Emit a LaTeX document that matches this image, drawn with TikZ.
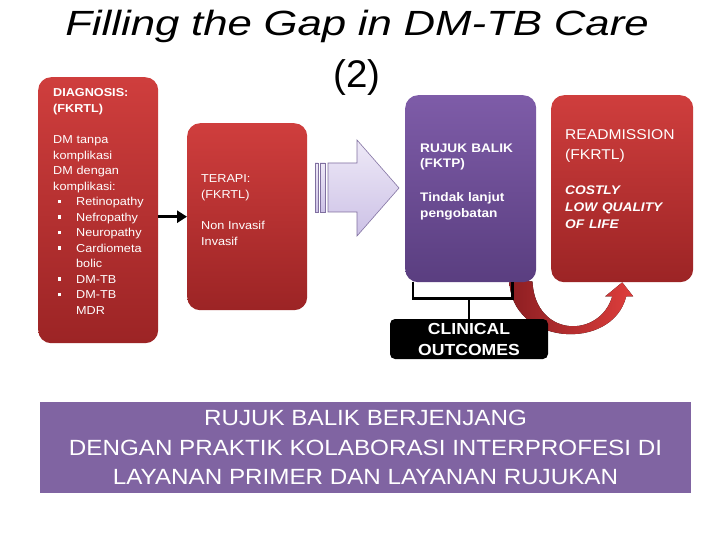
\documentclass[tikz,border=0pt]{standalone}
\usepackage{fontspec}
\setmainfont[FakeStretch=1.1]{Liberation Sans}
\newfontfamily\titlefont[FakeStretch=1.25]{Liberation Sans}
\newfontfamily\plainfont{Liberation Sans}
\usetikzlibrary{calc, arrows.meta, positioning, backgrounds}

\definecolor{redtop}{RGB}{207,62,61}
\definecolor{redbot}{RGB}{156,36,37}
\definecolor{purtop}{RGB}{126,92,168}
\definecolor{purbot}{RGB}{90,62,128}
\definecolor{bannerfill}{RGB}{128,100,162}
\definecolor{lavtop}{RGB}{238,233,247}
\definecolor{lavbot}{RGB}{204,193,230}
\definecolor{lavedge}{RGB}{128,112,160}
\definecolor{arrdark}{RGB}{140,30,34}
\definecolor{arrlight}{RGB}{222,62,60}

\newcommand{\blt}{\hspace*{4.5pt}\rule[2.5pt]{3.5pt}{3.5pt}\hspace*{15pt}}

\begin{document}
\begin{tikzpicture}[x=1pt, y=1pt,
    card/.style={rounded corners=13pt, inner sep=0pt, anchor=north west},
    redcard/.style={card, top color=redtop, bottom color=redbot},
    purcard/.style={card, top color=purtop, bottom color=purbot},
    cardtext/.style={anchor=base west, inner sep=0pt, text=white, text width=130pt, align=left},
    link/.style={-{Triangle[length=10pt, width=12pt]}, line width=3pt},
    brace/.style={line width=2.5pt},
    blockarrow/.style={draw=lavedge, line width=.6pt, top color=lavtop, bottom color=lavbot},
    curvarrow/.style={left color=arrdark, right color=arrlight}]
  \useasboundingbox (0,0) rectangle (720,-540);
  \node[anchor=base, text width=680pt, align=center, font=\titlefont\fontsize{35}{52}\selectfont] (title) at (357,-36)
    {\itshape Filling the Gap in DM-TB Care\\ \plainfont\upshape\fontsize{38.5}{52}\selectfont (2)};
  \foreach \name/\kind/\px/\py/\w/\h in {diag/redcard/38/77/120/266, terapi/redcard/187/123/120/187,
      rujuk/purcard/405/95/131/187, readm/redcard/551/95/142/187}
    \node[\kind, minimum width=\w, minimum height=\h] (\name) at (\px,-\py) {};
  \node[cardtext, font=\fontsize{11.5}{15.5}\selectfont] (diagtxt) at ($(diag.north west)+(15,-20)$)
    {\textbf{DIAGNOSIS:}\\ \textbf{(FKRTL)}\\[16pt] DM tanpa\\ komplikasi\\ DM dengan\\ komplikasi:\\
     \blt Retinopathy\\ \blt Nefropathy\\ \blt Neuropathy\\ \blt Cardiometa\\ \hspace*{23pt}bolic\\
     \blt DM-TB\\ \blt DM-TB\\ \hspace*{23pt}MDR};
  \node[cardtext, font=\fontsize{11.5}{15.5}\selectfont] (terapitxt) at ($(terapi.north west)+(14,-60)$)
    {TERAPI:\\ (FKRTL)\\[16pt] Non Invasif\\ Invasif};
  \node[cardtext, font=\bfseries\fontsize{12.4}{15.5}\selectfont] (rujuktxt) at ($(rujuk.north west)+(15,-57.4)$)
    {RUJUK BALIK\\ (FKTP)\\[18.5pt] Tindak lanjut\\ pengobatan};
  \node[cardtext, font=\fontsize{14.2}{19.5}\selectfont] (readmtxt) at ($(readm.north west)+(14,-45)$)
    {READMISSION\\ (FKRTL)\par\vspace{18.5pt}
     {\bfseries\itshape\fontsize{12.5}{17}\selectfont COSTLY\\ LOW QUALITY\\ OF LIFE\par}};
  \draw[link] (diag.east |- terapi.west) -- (terapi.west);
  \path[blockarrow] (328,-163) -- (357,-163) -- (357,-140) -- (399,-188) -- (357,-236) -- (357,-212) -- (328,-212) -- cycle;
  \foreach \a/\b in {315/318, 320/325}
    \path[blockarrow] (\a,-163) rectangle (\b,-212);
  \node[fill=black, rounded corners=5pt, minimum width=158, minimum height=40, inner sep=0pt, text=white,
    align=center, font=\bfseries\fontsize{16}{21}\selectfont] (clinical) at (469,-339) {CLINICAL\\ OUTCOMES};
  \draw[brace] ([xshift=8pt]rujuk.south west) -- ++(0,-16) -| ([xshift=-24pt]rujuk.south east);
  \draw[brace] (clinical.north) -- ++(0,21);
  \begin{pgfonlayer}{background}
    \fill[white] (0,0) rectangle (720,-540);
    \fill[curvarrow] ($(rujuk.south east)+(-27,2)$) .. controls +(1,-65) and +(-14,-56) .. ($(readm.south)+(4,-14)$)
      -- ++(7,0) -- (readm.south) -- ++(-17,-14) -- ++(7,0)
      .. controls +(-12,-42) and +(3,-57) .. ($(rujuk.south east)+(-4,1)$) -- cycle;
  \end{pgfonlayer}
  \node[fill=bannerfill, minimum width=651, minimum height=91, inner sep=0pt, text=white, align=center,
    font=\fontsize{22}{29.5}\selectfont] (banner) at (365.5,-447.5)
    {RUJUK BALIK BERJENJANG\\ DENGAN PRAKTIK KOLABORASI INTERPROFESI DI\\ LAYANAN PRIMER DAN LAYANAN RUJUKAN};
\end{tikzpicture}
\end{document}
